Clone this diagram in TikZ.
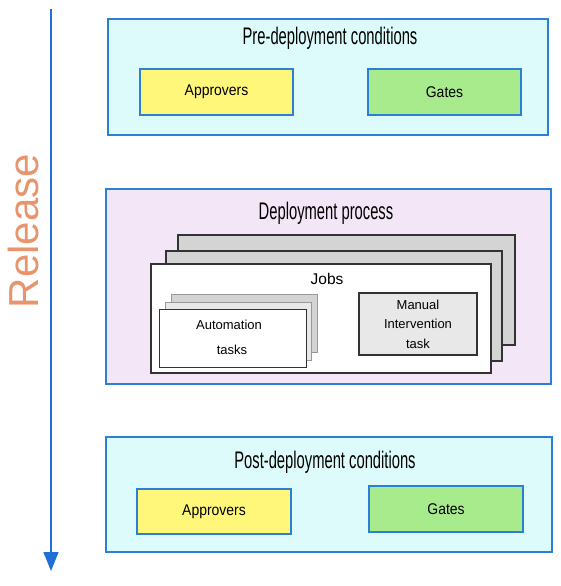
\documentclass[tikz,border=0pt]{standalone}
\usepackage{fontspec}
\setmainfont{Liberation Sans}
\newfontfamily\narrowfont[FakeStretch=0.615]{Liberation Sans}
\newfontfamily\midfont[FakeStretch=0.9]{Liberation Sans}
\usetikzlibrary{arrows.meta}
\definecolor{bluebd}{HTML}{2B7FD4}
\definecolor{cyanfill}{HTML}{DDFBFB}
\definecolor{yellowfill}{HTML}{FFF77A}
\definecolor{greenfill}{HTML}{A8EB8C}
\definecolor{lavfill}{HTML}{F3E6F7}
\definecolor{grayfill}{HTML}{D4D4D4}
\definecolor{lightgray}{HTML}{E8E8E8}
\definecolor{darkbd}{HTML}{333333}
\definecolor{relcol}{HTML}{E8956E}
\definecolor{arrowblue}{HTML}{1F6FD6}
\begin{document}
\begin{tikzpicture}[x=1pt,y=-1pt,
  outerbox/.style={draw=bluebd,line width=1.2pt,fill=cyanfill},
  condbox/.style={draw=bluebd,line width=1.2pt},
  stackbox/.style={draw=darkbd,line width=1.2pt},
  autobox/.style={draw=gray!80,line width=1pt},
  titletext/.style={font=\narrowfont\fontsize{24}{24}\selectfont,inner sep=0pt},
  condtext/.style={font=\midfont\fontsize{15.5}{15.5}\selectfont,inner sep=0pt},
  jobtext/.style={font=\fontsize{15.5}{15.5}\selectfont,inner sep=0pt},
  smalltext/.style={font=\fontsize{13}{13}\selectfont,inner sep=0pt},
]
\useasboundingbox (0,0) rectangle (561,586);
\fill[white] (0,0) rectangle (561,586);

% release arrow
\coordinate (arrS) at (51,9);
\coordinate (arrE) at (51,571);
\draw[arrowblue,line width=1.2pt,-{Triangle[width=15pt,length=19pt]}] (arrS) -- (arrE);
\node[rotate=90,text=relcol,font=\fontsize{42}{42}\selectfont,inner sep=0pt] (rel) at (23.5,231) {Release};

% pre-deployment
\node[outerbox,minimum width=440pt,minimum height=116pt,inner sep=0pt] (pre) at (328,77) {};
\node[titletext] (pretitle) at (330,38) {Pre-deployment conditions};
\node[condbox,fill=yellowfill,minimum width=153pt,minimum height=46pt,inner sep=0pt] (preapp) at (216.5,92) {};
\node[condtext] at (preapp) {Approvers};
\node[condbox,fill=greenfill,minimum width=153pt,minimum height=46pt,inner sep=0pt] (pregate) at (444.5,92) {};
\node[condtext] at (pregate) {Gates};

% deployment process
\node[draw=bluebd,line width=1.2pt,fill=lavfill,minimum width=445pt,minimum height=195pt,inner sep=0pt] (dep) at (328.5,286.5) {};
\node[titletext] (deptitle) at (326,213) {Deployment process};
\node[stackbox,fill=grayfill,minimum width=337pt,minimum height=110pt,inner sep=0pt] (jobs3) at (346.5,290) {};
\node[stackbox,fill=grayfill,minimum width=336pt,minimum height=110pt,inner sep=0pt] (jobs2) at (334,306) {};
\node[stackbox,fill=white,minimum width=340pt,minimum height=109pt,inner sep=0pt] (jobs1) at (321,318.5) {};
\node[jobtext] (jobstext) at (327,279) {Jobs};

\node[autobox,fill=grayfill,minimum width=146pt,minimum height=58pt,inner sep=0pt] (auto3) at (244.5,323) {};
\node[autobox,fill=lightgray,minimum width=146pt,minimum height=58pt,inner sep=0pt] (auto2) at (238.5,331) {};
\node[draw=darkbd,line width=1pt,fill=white,minimum width=147pt,minimum height=58pt,inner sep=0pt] (auto1) at (232.5,338) {};
\node[smalltext] at (229,325) {Automation};
\node[smalltext] at (232,350) {tasks};

\node[stackbox,fill=lightgray,minimum width=118pt,minimum height=62pt,inner sep=0pt] (manual) at (418,324) {};
\node[smalltext] at (418,304.5) {Manual};
\node[smalltext] at (418,324) {Intervention};
\node[smalltext] at (418,343.5) {task};

% post-deployment
\node[outerbox,minimum width=446pt,minimum height=115pt,inner sep=0pt] (post) at (329,494.5) {};
\node[titletext] (posttitle) at (325,462) {Post-deployment conditions};
\node[condbox,fill=yellowfill,minimum width=154pt,minimum height=45pt,inner sep=0pt] (postapp) at (214,511.5) {};
\node[condtext] at (postapp) {Approvers};
\node[condbox,fill=greenfill,minimum width=154pt,minimum height=46pt,inner sep=0pt] (postgate) at (446,509) {};
\node[condtext] at (postgate) {Gates};
\end{tikzpicture}
\end{document}
